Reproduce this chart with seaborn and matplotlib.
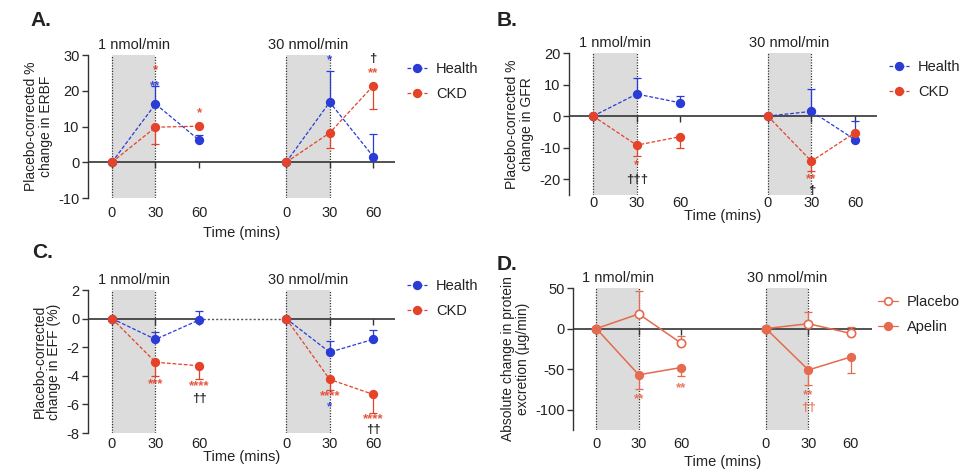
import numpy as np
import pandas as pd
import matplotlib
matplotlib.use("Agg")
import matplotlib.pyplot as plt
from matplotlib.lines import Line2D
import seaborn as sns

sns.set_theme(style="white")
plt.rcParams['font.family'] = ['Liberation Sans', 'DejaVu Sans']
plt.rcParams['axes.unicode_minus'] = False

# ---------------- data ----------------
x_pos = [0, 30, 60, 120, 150, 180]
x_labels = ["0", "30", "60", "0", "30", "60"]
groups = [1, 1, 1, 2, 2, 2]
dose_labels = ["1 nmol/min", "30 nmol/min"]

# Panel A: ERBF
A_health = [0, 16.3, 6.2, 0, 16.8, 1.6]
A_health_hi = [0, 5.0, 1.5, 0, 8.7, 6.2]
A_ckd = [0, 9.8, 10.1, 0, 8.2, 21.4]
A_ckd_lo = [0, 4.8, 0, 0, 4.2, 6.6]
A_ann = [(30, 21.3, "**", "h"), (30, 25.8, "*", "c"), (60, 13.8, "*", "c"),
         (150, 28.5, "*", "h"), (180, 25.0, "**", "c"), (180, 28.8, "\u2020", "k")]

# Panel B: GFR
B_health = [0, 7.0, 4.2, 0, 1.5, -7.5]
B_health_hi = [0, 5.0, 2.3, 0, 7.0, 6.0]
B_ckd = [0, -9.2, -6.5, 0, -14.3, -5.2]
B_ckd_lo = [0, 3.3, 3.5, 0, 3.2, 0]
B_ann = [(30, -15.7, "*", "c"), (30, -20.3, "\u2020\u2020\u2020", "k"),
         (150, -20.0, "**", "c"), (150, -23.8, "\u2020", "k")]

# Panel C: EFF
C_health = [0, -1.45, -0.1, 0, -2.35, -1.45]
C_health_hi = [0, 0.5, 0.6, 0, 0.8, 0.65]
C_ckd = [0, -3.05, -3.3, 0, -4.25, -5.3]
C_ckd_lo = [0, 0.95, 0.9, 0, 0.75, 1.3]
C_ann = [(30, -4.6, "***", "c"), (60, -4.75, "****", "c"), (60, -5.6, "\u2020\u2020", "k"),
         (150, -5.4, "****", "c"), (150, -6.2, "*", "h"),
         (180, -7.0, "****", "c"), (180, -7.8, "\u2020\u2020", "k")]

# Panel D: protein excretion
D_placebo = [0, 18, -18, 0, 6, -6]
D_placebo_hi = [0, 28, 9, 0, 15, 8]
D_apelin = [0, -57, -48, 0, -51, -35]
D_apelin_lo = [0, 18, 11, 0, 19, 20]
D_ann = [(30, -87, "**", "c"), (60, -73, "**", "c"),
         (150, -82, "**", "c"), (150, -98, "\u2020\u2020", "c")]

BLUE = "#2a3bd6"
RED = "#e4432a"
ORANGE = "#e56a4e"
TXT = "#222222"
W, H = 960, 473
FS = 10.5

fig = plt.figure(figsize=(9.6, 4.73), dpi=100)


def make_ax(left, top, right, bottom):
    return fig.add_axes([left / W, 1 - bottom / H, (right - left) / W, (bottom - top) / H])


def setup(ax, ylim, yticks, ylabel, dotted_gap=False, label_pad=6, xlabel_pad=4):
    ax.set_xlim(-16.5, 195)
    ax.set_ylim(*ylim)
    for g0 in (0, 120):
        ax.axvspan(g0, g0 + 30, color="#dcdcdc", lw=0, zorder=0)
        for xv in (g0, g0 + 30):
            ax.axvline(xv, color="#333333", lw=0.9, ls=(0, (1, 1.2)), zorder=1)
    if dotted_gap:
        ax.hlines(0, -16.5, 60, color="#333333", lw=1.2, zorder=1)
        ax.hlines(0, 60, 120, color="#555555", lw=1.0, ls=(0, (1.5, 1.5)), zorder=1)
        ax.hlines(0, 120, 195, color="#333333", lw=1.2, zorder=1)
    else:
        ax.axhline(0, color="#333333", lw=1.2, zorder=1)
    for s in ("top", "right"):
        ax.spines[s].set_visible(False)
    ax.spines["left"].set_color("#333333")
    ax.spines["left"].set_linewidth(1.0)
    ax.spines["bottom"].set_position(("data", 0))
    ax.spines["bottom"].set_visible(False)
    ax.set_xticks(x_pos)
    ax.tick_params(axis="x", bottom=True, labelbottom=False, length=4, width=1,
                   color="#333333", direction="out")
    ax.set_yticks(yticks)
    ax.tick_params(axis="y", left=True, length=4, width=1, color="#333333",
                   labelsize=FS, pad=2, labelcolor=TXT)
    sec = ax.secondary_xaxis(0)
    sec.spines["bottom"].set_visible(False)
    sec.set_xticks(x_pos, x_labels)
    sec.tick_params(length=0, labelsize=FS, pad=label_pad, labelcolor=TXT)
    sec.set_xlabel("Time (mins)", fontsize=FS, color=TXT, labelpad=xlabel_pad)
    ax.set_xlabel("")
    ax.set_ylabel(ylabel, fontsize=10, color=TXT, labelpad=4, linespacing=1.05)
    for i, g0 in enumerate((0, 120)):
        ax.text(g0 + 15, 1.02, dose_labels[i], transform=ax.get_xaxis_transform(),
                ha="center", va="bottom", fontsize=FS, color=TXT)


def series(ax, y, color, lo=None, hi=None, ls=(0, (3, 1.5)), lw=0.9, mfc=None, ms=5.5):
    df = pd.DataFrame({"x": x_pos, "y": y, "g": groups})
    sns.lineplot(data=df, x="x", y="y", units="g", estimator=None, ax=ax, color=color,
                 lw=lw, linestyle=ls, marker="o", ms=ms, mfc=mfc if mfc else color,
                 mec=color, mew=1.2, zorder=4)
    lo = np.array(lo if lo is not None else [0] * 6)
    hi = np.array(hi if hi is not None else [0] * 6)
    mask = (lo > 0) | (hi > 0)
    ax.errorbar(np.array(x_pos)[mask], np.array(y)[mask], yerr=[lo[mask], hi[mask]],
                fmt="none", ecolor=color, elinewidth=0.9, capsize=3, capthick=0.9, zorder=3)


def annotate(ax, ann, cmap, fs=9.5):
    for xv, yv, txt, key in ann:
        ax.text(xv, yv, txt, color=cmap[key], ha="center", va="center",
                fontsize=fs, fontweight="bold", zorder=5, alpha=0.9)


def legend(ax, labels, colors, mfcs, ls, anchor):
    handles = [Line2D([0], [0], color=c, lw=0.9, ls=l, marker="o", ms=5.5,
                      mfc=m, mec=c, mew=1.2) for c, m, l in zip(colors, mfcs, ls)]
    ax.legend(handles, labels, loc="upper left", bbox_to_anchor=anchor, frameon=False,
              fontsize=FS, handlelength=1.4, handletextpad=0.6, labelspacing=0.75,
              borderaxespad=0, labelcolor=TXT)


dash = (0, (3, 1.5))
cmapHC = {"h": BLUE, "c": RED, "k": "#111111"}

# ---- A ----
axA = make_ax(88, 55, 395, 198)
setup(axA, (-10, 30), [-10, 0, 10, 20, 30], "Placebo-corrected %\nchange in ERBF")
series(axA, A_health, BLUE, hi=A_health_hi)
series(axA, A_ckd, RED, lo=A_ckd_lo)
annotate(axA, A_ann, cmapHC)
legend(axA, ["Health", "CKD"], [BLUE, RED], [BLUE, RED], [dash, dash], (1.02, 0.99))

# ---- B ----
axB = make_ax(569, 53, 877, 195)
setup(axB, (-25, 20), [-20, -10, 0, 10, 20], "Placebo-corrected %\nchange in GFR",
      label_pad=1, xlabel_pad=-1)
series(axB, B_health, BLUE, hi=B_health_hi)
series(axB, B_ckd, RED, lo=B_ckd_lo)
annotate(axB, B_ann, cmapHC)
legend(axB, ["Health", "CKD"], [BLUE, RED], [BLUE, RED], [dash, dash], (1.02, 0.99))

# ---- C ----
axC = make_ax(88, 290, 395, 433)
setup(axC, (-8, 2), [-8, -6, -4, -2, 0, 2], "Placebo-corrected\nchange in EFF (%)",
      dotted_gap=True, label_pad=3, xlabel_pad=-1)
series(axC, C_health, BLUE, hi=C_health_hi)
series(axC, C_ckd, RED, lo=C_ckd_lo)
annotate(axC, C_ann, cmapHC)
legend(axC, ["Health", "CKD"], [BLUE, RED], [BLUE, RED], [dash, dash], (1.02, 1.12))

# ---- D ----
axD = make_ax(573, 288, 872, 430)
setup(axD, (-125, 50), [-100, -50, 0, 50],
      "Absolute change in protein\nexcretion (\u00b5g/min)", label_pad=5, xlabel_pad=3)
series(axD, D_placebo, ORANGE, hi=D_placebo_hi, ls="-", lw=1.1, mfc="white", ms=6)
series(axD, D_apelin, ORANGE, lo=D_apelin_lo, ls="-", lw=1.1, ms=5.5)
annotate(axD, D_ann, {"c": ORANGE, "k": "#111111"})
legend(axD, ["Placebo", "Apelin"], [ORANGE, ORANGE], ["white", ORANGE], ["-", "-"], (1.0, 0.99))

# panel letters
for lab, (px, py) in {"A.": (30, 20), "B.": (497, 20), "C.": (32, 252), "D.": (497, 265)}.items():
    fig.text(px / W, 1 - py / H, lab, fontsize=15, fontweight="bold", ha="left", va="center",
             color="#222222")

fig.savefig("out.png", dpi=100)
